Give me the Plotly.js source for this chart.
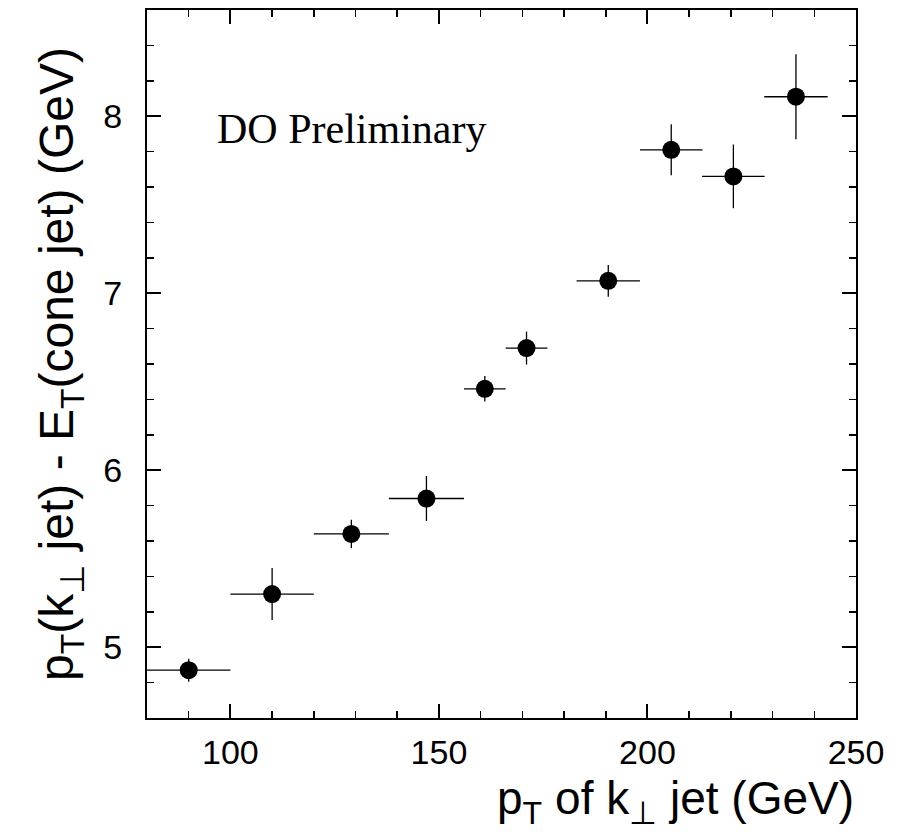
<!DOCTYPE html>
<html>
<head>
<meta charset="utf-8">
<script src="https://cdn.plot.ly/plotly-3.0.1.min.js"></script>
<style>html,body{margin:0;padding:0;background:#fff;}#plot{width:902px;height:832px;}</style>
</head>
<body>
<div id="plot"></div>
<script>
// p_T of k_perp jet (GeV)
const ptKt      = [90, 110, 129, 147, 161, 171, 190.6, 205.7, 220.6, 235.6];
const ptKtErr   = [10, 10, 9, 9, 5, 5, 7.6, 7.5, 7.5, 7.6];
// p_T(k_perp jet) - E_T(cone jet) (GeV)
const deltaE    = [4.87, 5.30, 5.64, 5.84, 6.46, 6.69, 7.07, 7.81, 7.66, 8.11];
const deltaEErr = [0.065, 0.147, 0.08, 0.127, 0.072, 0.093, 0.09, 0.144, 0.18, 0.24];
const xTickVals = [100, 150, 200, 250];
const yTickVals = [5, 6, 7, 8];

const sans = 'Liberation Sans, Arial, Helvetica, sans-serif';

const trace = {
  x: ptKt, y: deltaE, type: 'scatter', mode: 'markers',
  marker: {symbol: 'circle', size: 18, color: '#000'},
  error_x: {type: 'data', array: ptKtErr, visible: true, color: '#000', thickness: 1.3, width: 0},
  error_y: {type: 'data', array: deltaEErr, visible: true, color: '#000', thickness: 1.3, width: 0},
  showlegend: false, hoverinfo: 'x+y'
};

const axisCommon = {
  showgrid: false, zeroline: false, showline: true, linecolor: '#000', linewidth: 2,
  mirror: 'allticks', ticks: 'inside', ticklen: 14, tickwidth: 2, tickcolor: '#000',
  tickfont: {family: sans, size: 34, color: '#000'}
};

const layout = {
  width: 902, height: 832,
  margin: {l: 147, r: 46, t: 10, b: 114},
  paper_bgcolor: '#fff', plot_bgcolor: '#fff',
  xaxis: Object.assign({}, axisCommon, {
    range: [80, 250], tickmode: 'array', tickvals: xTickVals, ticktext: xTickVals.map(String),
    ticklabelstandoff: 3,
    minor: {dtick: 10, tick0: 80, ticks: 'inside', ticklen: 7, tickwidth: 1.5, tickcolor: '#000', showgrid: false}
  }),
  yaxis: Object.assign({}, axisCommon, {
    range: [4.6, 8.6], tickmode: 'array', tickvals: yTickVals, ticktext: yTickVals.map(String),
    ticklabelstandoff: 16,
    minor: {dtick: 0.2, tick0: 4.6, ticks: 'inside', ticklen: 7, tickwidth: 1.5, tickcolor: '#000', showgrid: false},
    title: {text: 'p<sub>T</sub>(k<sub>⊥</sub> jet) - E<sub>T</sub>(cone jet) (GeV)', font: {family: sans, size: 48, color: '#000'}, standoff: 14}
  }),
  annotations: [
    {xref: 'paper', yref: 'paper', x: 1, y: -0.118, xanchor: 'right', yanchor: 'middle',
     text: 'p<sub>T</sub> of k<sub>⊥</sub> jet (GeV)', showarrow: false,
     font: {family: sans, size: 46, color: '#000'}},
    {xref: 'x', yref: 'y', x: 96.3, y: 7.93, xanchor: 'left', yanchor: 'middle',
     text: 'DO Preliminary', showarrow: false,
     font: {family: 'Liberation Serif, Times New Roman, serif', size: 42, color: '#000'}}
  ]
};

Plotly.newPlot('plot', [trace], layout, {displayModeBar: false, staticPlot: true});
</script>
</body>
</html>
